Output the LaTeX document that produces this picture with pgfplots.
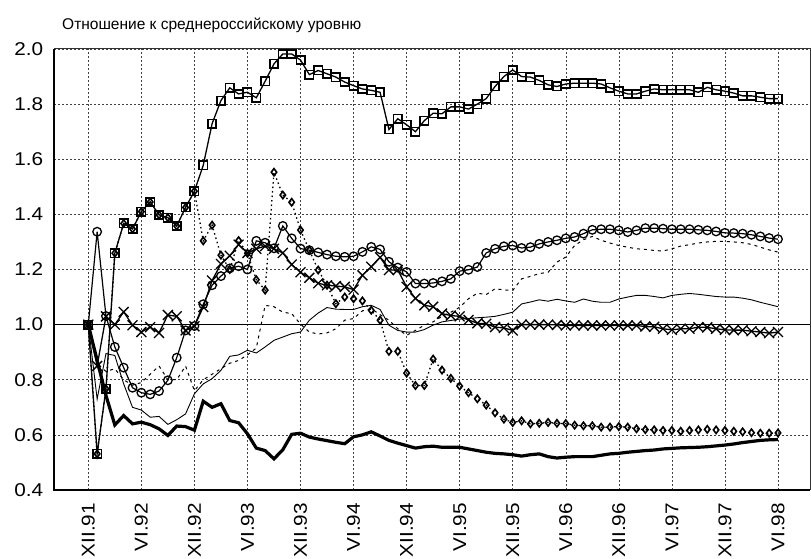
\documentclass[border=0pt]{standalone}
\usepackage{pgfplots}
\pgfplotsset{compat=1.18}
\usepackage{pgfplotstable}
\usepackage{fontspec}
\setmainfont{Liberation Sans}
\newfontfamily\tickfont[FakeStretch=1.12]{Liberation Sans}

\pgfplotstableread{
m sq ci xx di da th tk
0 1.000 1.000 1.000 1.000 1.000 1.000 1.000
1 0.531 1.337 0.850 0.531 0.860 0.730 0.870
2 0.767 1.031 1.030 0.767 0.830 0.895 0.743
3 1.259 0.919 1.000 1.259 0.840 0.888 0.636
4 1.367 0.844 1.046 1.367 0.800 0.785 0.670
5 1.347 0.771 0.998 1.347 0.780 0.700 0.640
6 1.410 0.753 0.973 1.410 0.790 0.690 0.646
7 1.445 0.747 0.991 1.445 0.820 0.664 0.637
8 1.398 0.759 0.970 1.398 0.850 0.667 0.622
9 1.388 0.798 1.035 1.388 0.800 0.638 0.598
10 1.358 0.880 1.030 1.358 0.800 0.655 0.632
11 1.425 0.979 0.979 1.425 0.850 0.676 0.630
12 1.484 0.995 0.994 1.484 0.760 0.749 0.617
13 1.578 1.074 1.064 1.304 0.800 0.785 0.722
14 1.729 1.143 1.160 1.361 0.820 0.804 0.700
15 1.813 1.176 1.220 1.252 0.840 0.834 0.713
16 1.859 1.204 1.250 1.200 0.860 0.885 0.652
17 1.837 1.212 1.290 1.305 0.870 0.890 0.644
18 1.843 1.200 1.260 1.259 0.890 0.907 0.604
19 1.823 1.304 1.275 1.163 0.915 0.897 0.552
20 1.883 1.297 1.285 1.125 1.070 0.919 0.543
21 1.946 1.277 1.275 1.553 1.065 0.943 0.513
22 1.982 1.358 1.260 1.470 1.045 0.955 0.546
23 1.982 1.313 1.218 1.444 1.040 0.967 0.602
24 1.960 1.276 1.190 1.343 1.002 0.973 0.606
25 1.907 1.270 1.170 1.270 0.973 1.016 0.592
26 1.922 1.262 1.150 1.198 0.966 1.042 0.585
27 1.910 1.254 1.143 1.143 0.970 1.062 0.579
28 1.898 1.248 1.140 1.076 0.985 1.056 0.573
29 1.880 1.246 1.137 1.100 1.016 1.055 0.568
30 1.867 1.248 1.127 1.094 1.022 1.055 0.593
31 1.855 1.264 1.179 1.086 1.050 1.065 0.600
32 1.850 1.282 1.210 1.052 1.058 1.070 0.611
33 1.843 1.273 1.244 1.016 1.036 1.055 0.596
34 1.708 1.228 1.198 0.903 1.016 0.998 0.580
35 1.747 1.207 1.198 0.903 0.985 0.979 0.570
36 1.725 1.191 1.137 0.824 0.961 0.973 0.561
37 1.700 1.149 1.095 0.779 0.979 0.973 0.552
38 1.740 1.149 1.070 0.779 0.998 0.982 0.557
39 1.767 1.151 1.065 0.875 1.010 0.998 0.559
40 1.765 1.157 1.040 0.835 1.030 1.010 0.555
41 1.790 1.166 1.033 0.805 1.045 1.015 0.555
42 1.790 1.194 1.030 0.777 1.063 1.020 0.555
43 1.782 1.199 1.017 0.753 1.094 1.022 0.549
44 1.800 1.209 1.005 0.731 1.114 1.025 0.543
45 1.820 1.260 1.003 0.708 1.109 1.027 0.537
46 1.864 1.275 0.991 0.680 1.130 1.030 0.533
47 1.900 1.284 0.988 0.657 1.126 1.037 0.531
48 1.924 1.287 0.979 0.645 1.124 1.045 0.528
49 1.900 1.278 1.000 0.651 1.166 1.075 0.523
50 1.898 1.281 1.000 0.640 1.175 1.082 0.528
51 1.886 1.293 1.000 0.642 1.185 1.090 0.531
52 1.870 1.300 1.000 0.645 1.190 1.085 0.521
53 1.864 1.306 0.999 0.642 1.227 1.092 0.516
54 1.873 1.313 0.997 0.641 1.245 1.086 0.519
55 1.876 1.318 0.997 0.635 1.287 1.081 0.521
56 1.876 1.330 0.997 0.633 1.308 1.093 0.521
57 1.876 1.344 0.997 0.633 1.320 1.085 0.521
58 1.873 1.346 0.997 0.628 1.306 1.081 0.526
59 1.859 1.346 0.997 0.628 1.296 1.081 0.531
60 1.847 1.342 0.997 0.630 1.287 1.093 0.533
61 1.837 1.336 0.997 0.628 1.281 1.100 0.537
62 1.837 1.342 0.997 0.622 1.275 1.106 0.540
63 1.847 1.350 0.993 0.619 1.273 1.106 0.543
64 1.855 1.350 0.992 0.618 1.269 1.102 0.545
65 1.852 1.348 0.985 0.616 1.267 1.097 0.549
66 1.852 1.346 0.981 0.616 1.275 1.106 0.551
67 1.852 1.346 0.985 0.613 1.285 1.110 0.553
68 1.852 1.346 0.985 0.616 1.290 1.113 0.554
69 1.843 1.344 0.991 0.618 1.296 1.110 0.555
70 1.861 1.342 0.990 0.620 1.300 1.106 0.557
71 1.852 1.338 0.985 0.618 1.302 1.102 0.560
72 1.847 1.333 0.981 0.616 1.302 1.100 0.563
73 1.840 1.332 0.980 0.613 1.300 1.100 0.567
74 1.830 1.330 0.980 0.611 1.297 1.096 0.572
75 1.830 1.326 0.976 0.608 1.291 1.090 0.576
76 1.825 1.320 0.973 0.606 1.281 1.081 0.580
77 1.820 1.314 0.969 0.606 1.271 1.073 0.582
78 1.820 1.310 0.973 0.607 1.263 1.065 0.583
}\datatable

\begin{document}
\begin{tikzpicture}
\useasboundingbox (0,0) rectangle (811pt,559pt);
\node[anchor=base west, inner sep=0pt, font=\fontsize{15.5}{18}\selectfont] at (62pt,529pt) {Отношение к среднероссийскому уровню};
\begin{axis}[
  at={(54.3pt,69pt)}, anchor=south west,
  scale only axis, width=755.7pt, height=441pt,
  xmin=-3.845, xmax=81.62, ymin=0.4, ymax=2.0,
  xtick={0,6,12,18,24,30,36,42,48,54,60,66,72,78},
  xticklabels={XII.91,VI.92,XII.92,VI.93,XII.93,VI.94,XII.94,VI.95,XII.95,VI.96,XII.96,VI.97,XII.97,VI.98},
  ytick={0.4,0.6,0.8,1.0,1.2,1.4,1.6,1.8,2.0},
  /pgf/number format/fixed,
  /pgf/number format/fixed zerofill,
  /pgf/number format/precision=1,
  /pgf/number format/assume math mode=true,
  yticklabel style={font=\tickfont\fontsize{18.5}{20}\selectfont, inner sep=0pt, xshift=-11pt},
  xticklabel style={font=\tickfont\fontsize{18.5}{20}\selectfont, rotate=90, anchor=east, inner sep=0pt, xshift=-13pt},
  major tick length=0pt,
  grid=major,
  major grid style={black!75, dash pattern=on 2pt off 2pt, line width=0.5pt},
  axis line style={draw=none},
  clip=false,
]
\addplot[black, line width=0.9pt, forget plot] coordinates {(-3.845,1) (81.62,1)};
\addplot[black, line width=3.2pt] table[x=m, y=tk] {\datatable};
\addplot[black, line width=0.9pt] table[x=m, y=th] {\datatable};
\addplot[black, line width=1pt, dash pattern=on 3pt off 4pt] table[x=m, y=da] {\datatable};
\addplot[black, line width=1.3pt, dash pattern=on 1.5pt off 3pt, mark=diamond, mark size=3.6pt, mark options={solid, line width=1.6pt, fill=white}] table[x=m, y=di] {\datatable};
\addplot[black, line width=1.3pt, mark=x, mark size=7pt, mark options={line width=1.3pt}] table[x=m, y=xx] {\datatable};
\addplot[black, line width=1.2pt, mark=o, mark size=4.3pt, mark options={line width=1.3pt}] table[x=m, y=ci] {\datatable};
\addplot[black, line width=1.3pt, mark=square, mark size=4.2pt, mark options={line width=1.6pt}] table[x=m, y=sq] {\datatable};
\draw[black, line width=1.8pt] (rel axis cs:0,1) -- (rel axis cs:0,0) -- (rel axis cs:1,0);
\draw[black!80, line width=1pt] (rel axis cs:0,1) -- (rel axis cs:1,1) -- (rel axis cs:1,0);
\end{axis}
\end{tikzpicture}
\end{document}
